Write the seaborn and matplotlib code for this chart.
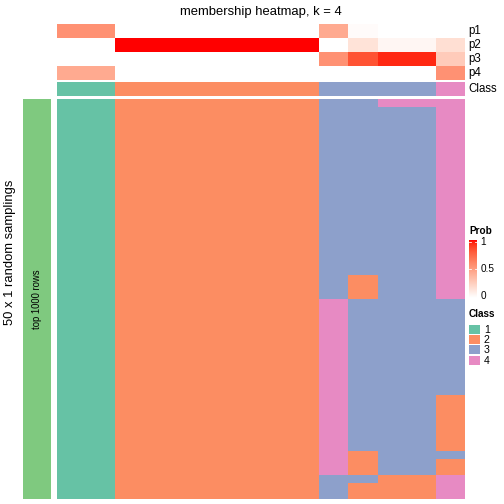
import numpy as np
import matplotlib
matplotlib.use('Agg')
import matplotlib.pyplot as plt
from matplotlib.colors import ListedColormap, to_rgb
from matplotlib.patches import Rectangle
import seaborn as sns

# -- data --
prob_rows = ['p1', 'p2', 'p3', 'p4']
p1 = [0.56, 0.56, 0, 0, 0, 0, 0, 0, 0, 0.44, 0.02, 0, 0, 0]
p2 = [0, 0, 1, 1, 1, 1, 1, 1, 1, 0, 0.15, 0.05, 0.05, 0.17]
p3 = [0, 0, 0, 0, 0, 0, 0, 0, 0, 0.56, 0.83, 0.95, 0.95, 0.27]
p4 = [0.44, 0.44, 0, 0, 0, 0, 0, 0, 0, 0, 0, 0, 0, 0.56]
col_class = [1, 1, 2, 2, 2, 2, 2, 2, 2, 3, 3, 3, 3, 4]

# class of each sampling (row) per column, as (class, run length) from top
col_runs = [
    [(1, 50)], [(1, 50)],
    [(2, 50)], [(2, 50)], [(2, 50)], [(2, 50)], [(2, 50)], [(2, 50)], [(2, 50)],
    [(3, 25), (4, 22), (3, 3)],
    [(3, 22), (2, 3), (3, 19), (2, 3), (3, 1), (2, 2)],
    [(4, 1), (3, 46), (2, 3)],
    [(4, 1), (3, 46), (2, 3)],
    [(4, 25), (3, 12), (2, 7), (3, 1), (2, 2), (4, 3)],
]
class_labels = ['1', '2', '3', '4']
class_colors = ['#66C2A5', '#FC8D62', '#8DA0CB', '#E78AC3']
prob_ticks = [0, 0.5, 1]

W = H = 504
plt.rcParams['font.family'] = ['Liberation Sans', 'DejaVu Sans']


def px_axes(fig, x0, y0, x1, y1):
    return fig.add_axes([x0 / W, 1 - y1 / H, (x1 - x0) / W, (y1 - y0) / H])


def white_red_lab(n=256):
    # white -> red interpolated in CIE Lab, like colorRamp2
    def to_lab(rgb):
        c = np.array(rgb)
        c = np.where(c > 0.04045, ((c + 0.055) / 1.055) ** 2.4, c / 12.92)
        M = np.array([[0.4124, 0.3576, 0.1805], [0.2126, 0.7152, 0.0722], [0.0193, 0.1192, 0.9505]])
        xyz = M @ c / np.array([0.95047, 1.0, 1.08883])
        f = np.where(xyz > 0.008856, np.cbrt(xyz), 7.787 * xyz + 16 / 116)
        return np.array([116 * f[1] - 16, 500 * (f[0] - f[1]), 200 * (f[1] - f[2])])

    def lab_to_rgb(lab):
        fy = (lab[0] + 16) / 116
        fx = fy + lab[1] / 500
        fz = fy - lab[2] / 200
        f = np.array([fx, fy, fz])
        xyz = np.where(f ** 3 > 0.008856, f ** 3, (f - 16 / 116) / 7.787) * np.array([0.95047, 1.0, 1.08883])
        Mi = np.array([[3.2406, -1.5372, -0.4986], [-0.9689, 1.8758, 0.0415], [0.0557, -0.2040, 1.0570]])
        c = np.clip(Mi @ xyz, 0, 1)
        c = np.where(c > 0.0031308, 1.055 * c ** (1 / 2.4) - 0.055, 12.92 * c)
        return np.clip(c, 0, 1)

    a, b = to_lab(to_rgb('white')), to_lab(to_rgb('red'))
    return ListedColormap([lab_to_rgb(a + t * (b - a)) for t in np.linspace(0, 1, n)])


prob_cmap = white_red_lab()
class_cmap = ListedColormap(class_colors)

prob_mat = np.array([p1, p2, p3, p4])
member_mat = np.array([[c for c, n in runs for _ in range(n)] for runs in col_runs]).T

fig = plt.figure(figsize=(W / 72, H / 72), dpi=72)

# top probability annotation
ax_p = px_axes(fig, 57, 24, 465, 80)
sns.heatmap(prob_mat, ax=ax_p, cmap=prob_cmap, vmin=0, vmax=1, cbar=False,
            xticklabels=False, yticklabels=False)
for i, lab in enumerate(prob_rows):
    ax_p.text(14.1, i + 0.5, lab, fontsize=11.5, va='center', ha='left')

# class annotation
ax_c = px_axes(fig, 57, 82, 465, 96)
sns.heatmap(np.array([col_class]), ax=ax_c, cmap=class_cmap, vmin=0.5, vmax=4.5,
            cbar=False, xticklabels=False, yticklabels=False)
ax_c.text(14.1, 0.5, 'Class', fontsize=11.5, va='center', ha='left')

# main membership heatmap
ax_m = px_axes(fig, 57, 99, 465, 499)
sns.heatmap(member_mat, ax=ax_m, cmap=class_cmap, vmin=0.5, vmax=4.5, cbar=False,
            xticklabels=False, yticklabels=False)

# row split bar
ax_g = px_axes(fig, 23, 99, 51, 499)
ax_g.set_facecolor('#7FC97F')
ax_g.set_xticks([])
ax_g.set_yticks([])
for s in ax_g.spines.values():
    s.set_visible(False)
ax_g.text(0.5, 0.5, 'top 1000 rows', rotation=90, fontsize=9.5,
          ha='center', va='center', transform=ax_g.transAxes)

fig.text(10 / W, 1 - 252 / H, '50 x 1 random samplings', rotation=90,
         fontsize=13, ha='center', va='center')
fig.text(261 / W, 1 - 12 / H, 'membership heatmap, k = 4', fontsize=13,
         ha='center', va='center')

# Prob legend
fig.text(469 / W, 1 - 231 / H, 'Prob', fontsize=10, fontweight='bold', ha='left', va='center')
ax_cb = px_axes(fig, 469, 240, 477, 298)
grad = np.linspace(1, 0, 100).reshape(-1, 1)
ax_cb.imshow(grad, cmap=prob_cmap, vmin=0, vmax=1, aspect='auto', extent=[0, 1, -0.03, 1.03])
for t in prob_ticks:
    if t > 0:
        ax_cb.plot([0, 0.25], [t, t], color='white', lw=0.8)
        ax_cb.plot([0.75, 1], [t, t], color='white', lw=0.8)
    ax_cb.text(1.4, t, f'{t:g}', fontsize=10, va='center', ha='left', clip_on=False)
ax_cb.set_xlim(0, 1)
ax_cb.set_ylim(-0.03, 1.03)
ax_cb.axis('off')

# Class legend
fig.text(469 / W, 1 - 314 / H, 'Class', fontsize=10, fontweight='bold', ha='left', va='center')
ax_l = px_axes(fig, 469, 320, 504, 368)
ax_l.set_xlim(469, 504)
ax_l.set_ylim(368, 320)
ax_l.axis('off')
for i, (lab, col) in enumerate(zip(class_labels, class_colors)):
    y = 325 + i * 10.2
    ax_l.add_patch(Rectangle((469, y), 11, 9, facecolor=col, edgecolor='none'))
    ax_l.text(484, y + 5, lab, fontsize=10.5, va='center', ha='left')

fig.savefig('out.png', dpi=72)
